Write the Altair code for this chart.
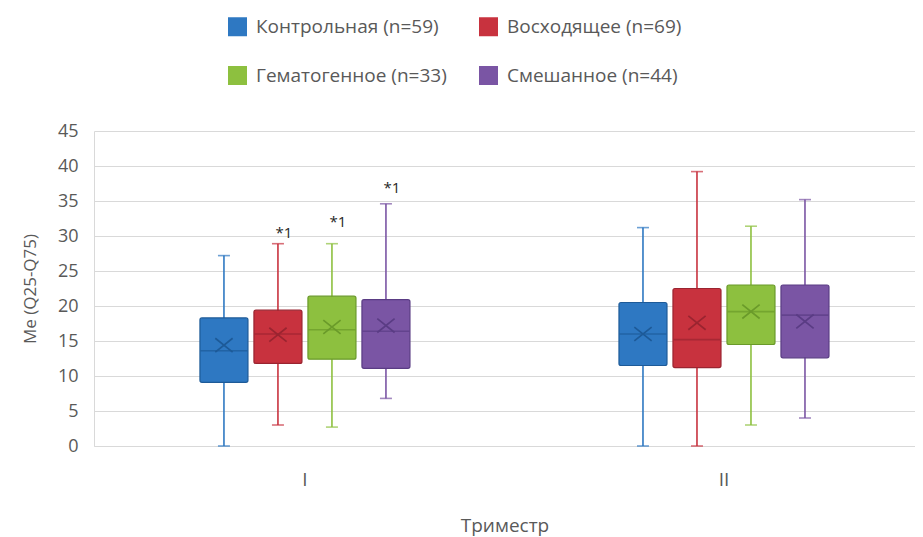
import altair as alt
import pandas as pd

groups = ["Контрольная (n=59)", "Восходящее (n=69)", "Гематогенное (n=33)", "Смешанное (n=44)"]
trimesters = ["I", "II"]
colors = ["#2E78C2", "#C8323E", "#8DC03F", "#7A55A4"]
dark_colors = ["#1D5A98", "#9A2430", "#6A9A2A", "#5A3C84"]

# trimester I
lo_1 = [0.0, 3.0, 2.7, 6.8]
q1_1 = [9.1, 11.8, 12.4, 11.1]
med_1 = [13.6, 16.0, 16.6, 16.4]
mean_1 = [14.4, 15.9, 17.0, 17.2]
q3_1 = [18.3, 19.4, 21.4, 20.9]
hi_1 = [27.2, 28.9, 28.9, 34.6]

# trimester II
lo_2 = [0.0, 0.0, 3.0, 4.0]
q1_2 = [11.5, 11.2, 14.5, 12.6]
med_2 = [16.0, 15.2, 19.2, 18.7]
mean_2 = [16.0, 17.6, 19.2, 17.8]
q3_2 = [20.5, 22.5, 23.0, 23.0]
hi_2 = [31.2, 39.2, 31.4, 35.2]

# significance marks
ann_trimester = ["I", "I", "I"]
ann_group = [groups[1], groups[2], groups[3]]
ann_y = [30.5, 32.0, 36.9]
ann_text = ["*1", "*1", "*1"]

y_ticks = [0, 5, 10, 15, 20, 25, 30, 35, 40, 45]

rows = []
for t, lo, q1, md, mn, q3, hi in [
    ("I", lo_1, q1_1, med_1, mean_1, q3_1, hi_1),
    ("II", lo_2, q1_2, med_2, mean_2, q3_2, hi_2),
]:
    for i, g in enumerate(groups):
        rows.append(dict(trimester=t, group=g, lo=lo[i], q1=q1[i], med=md[i],
                         mean=mn[i], q3=q3[i], hi=hi[i]))
df = pd.DataFrame(rows)
ann = pd.DataFrame(dict(trimester=ann_trimester, group=ann_group, y=ann_y, label=ann_text))

FONT = "Open Sans"
TXT = "#595959"

x_enc = alt.X("trimester:N", sort=trimesters,
              scale=alt.Scale(paddingInner=0.4893, paddingOuter=0.2243, align=0.553),
              axis=alt.Axis(title="Триместр", labelAngle=0, ticks=False, labelPadding=24,
                            titlePadding=27, domainColor="#d9d9d9", labelFontSize=19,
                            titleFontSize=19))
xo_enc = alt.XOffset("group:N", sort=groups,
                     scale=alt.Scale(paddingInner=0.111, paddingOuter=0.037))
y_scale = alt.Scale(domain=[0, 45], nice=False)
y_axis = alt.Axis(title="Me  (Q25-Q75)", values=y_ticks, ticks=False, labelPadding=16,
                  titlePadding=18, gridColor="#d9d9d9", domainColor="#d9d9d9",
                  labelFontSize=18, titleFontSize=17, labelOverlap=False)


def Y(field):
    return alt.Y(field, scale=y_scale, axis=y_axis)


col_light = alt.Color("group:N", sort=groups, scale=alt.Scale(domain=groups, range=colors),
                      legend=None)
col_dark = alt.Color("group:N", sort=groups, scale=alt.Scale(domain=groups, range=dark_colors),
                     legend=None)

base = alt.Chart(df)

whisk = base.mark_rule(strokeWidth=1.6).encode(
    x=x_enc, xOffset=xo_enc, y=Y("lo:Q"), y2="hi:Q", color=col_light,
)

box = base.mark_bar(cornerRadius=2, strokeWidth=1.2).encode(
    x=x_enc, xOffset=xo_enc,
    y=Y("q1:Q"),
    y2="q3:Q",
    color=alt.Color("group:N", sort=groups, scale=alt.Scale(domain=groups, range=colors),
                    legend=alt.Legend(title=None, orient="none", legendX=134, legendY=-114,
                                      columns=2, direction="horizontal",
                                      symbolType="square", symbolSize=361,
                                      symbolStrokeWidth=0, labelFontSize=19, labelFont=FONT,
                                      labelColor=TXT, labelOffset=9, rowPadding=29,
                                      columnPadding=32, labelLimit=300)),
    stroke=alt.Stroke("group:N", sort=groups, scale=alt.Scale(domain=groups, range=dark_colors),
                      legend=None),
)

median = base.mark_tick(orient="horizontal", size=47, thickness=1.6).encode(
    x=x_enc, xOffset=xo_enc, y=Y("med:Q"), color=col_dark,
)

caps_lo = base.mark_tick(orient="horizontal", size=12, thickness=1.6).encode(
    x=x_enc, xOffset=xo_enc, y=Y("lo:Q"), color=col_light)
caps_hi = base.mark_tick(orient="horizontal", size=12, thickness=1.6).encode(
    x=x_enc, xOffset=xo_enc, y=Y("hi:Q"), color=col_light)

mean_pt = base.mark_point(shape="M-1,-0.8L1,0.8M-1,0.8L1,-0.8", filled=False, size=300,
                          strokeWidth=1.7, opacity=1).encode(
    x=x_enc, xOffset=xo_enc, y=Y("mean:Q"), color=col_dark,
)

marks = alt.Chart(ann).mark_text(fontSize=15, font=FONT, color="#262626", dx=6).encode(
    x=x_enc, xOffset=xo_enc, y=Y("y:Q"), text="label:N",
)

chart = alt.layer(whisk, box, median, caps_lo, caps_hi, mean_pt, marks).resolve_scale(
    color="independent", stroke="independent"
).properties(
    width=821, height=315,
    autosize=alt.AutoSizeParams(type="none"),
    padding={"left": 86, "top": 123, "right": 0, "bottom": 98},
).configure_view(strokeWidth=0).configure_axis(
    labelFont=FONT, titleFont=FONT,
    labelColor=TXT, titleColor=TXT, titleFontWeight="normal",
)

chart.save("out.html", embed_options={"renderer": "svg", "actions": False})
